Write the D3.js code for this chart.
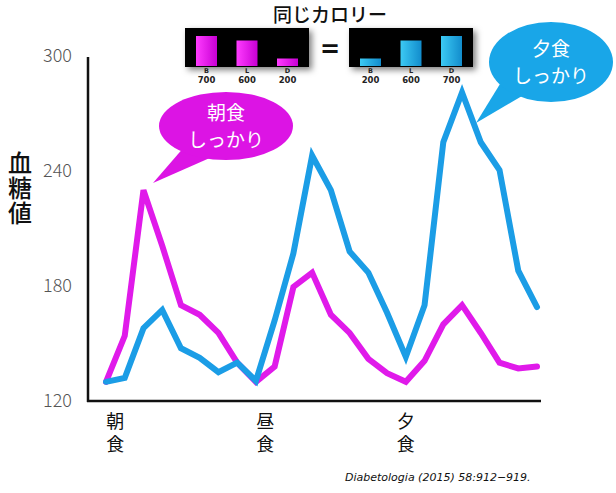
<!DOCTYPE html>
<html><head><meta charset="utf-8">
<script src="https://cdn.jsdelivr.net/npm/d3@7"></script>
<style>
html,body{margin:0;padding:0;background:#fff;}
svg{display:block;}
</style>
</head><body>
<svg id="chart" width="616" height="493"></svg>
<script>
// ---- data ----
const steps = d3.range(24);
const breakfastHeavy = [130,154,230,201,170,165,155.5,140,130,138,179.5,187,165,155.5,142,134.5,130,141,160,170,155.5,140,137,138];
const dinnerHeavy    = [130,132,158,167.5,147.5,142.5,135,140,130.5,162,197,248,230,198,187,166,143,170,255,281,255,240.5,188,169];
const yTicks = [120,180,240,300];
const mealLabels = ["朝食","昼食","夕食"];
const mealSteps = [0.5,8.5,16];
const insetCats = ["B","L","D"];
const insetBreakfast = [700,600,200];
const insetDinner = [200,600,700];

const svg = d3.select("#chart");
const JP = "'Noto Sans CJK JP','Noto Sans',sans-serif";
const MAG = "#e01aea", BLUE = "#1b9de6";

const x = d3.scaleLinear().domain([0,23]).range([106,537]);
const y = d3.scaleLinear().domain([120,300]).range([401,56]);

const defs = svg.append("defs");
const sh = defs.append("filter").attr("id","sh").attr("x","-20%").attr("y","-30%").attr("width","150%").attr("height","170%");
sh.append("feDropShadow").attr("dx",3).attr("dy",3).attr("stdDeviation",3).attr("flood-color","#000").attr("flood-opacity",0.5);
function grad(id,c1,c2){
  const g = defs.append("linearGradient").attr("id",id).attr("x1","0").attr("x2","1").attr("y1","0").attr("y2","0");
  g.append("stop").attr("offset","0").attr("stop-color",c1);
  g.append("stop").attr("offset","1").attr("stop-color",c2);
}
grad("gm","#ff3cff","#c800d4");
grad("gb","#3ccaf4","#128ccc");

// axes
const yAxis = d3.axisLeft(y).tickValues(yTicks).tickSize(0).tickPadding(16);
const gy = svg.append("g").attr("transform","translate(88,0)").call(yAxis);
gy.select(".domain").attr("stroke","#111").attr("stroke-width",2.5).attr("d","M0,57V402");
gy.selectAll("text").attr("font-family",JP).attr("font-size",18).attr("font-weight",300).attr("fill","#555");

const gx = svg.append("g").attr("transform","translate(0,401)").call(d3.axisBottom(x).tickValues([]).tickSizeOuter(0));
gx.select(".domain").attr("stroke","#111").attr("stroke-width",2.5).attr("d","M87,0H541");

// meal labels (vertical)
mealLabels.forEach((lab,i)=>{
  svg.append("text").attr("x",x(mealSteps[i])).attr("y",412)
    .attr("writing-mode","tb").attr("font-family",JP).attr("font-size",18)
    .attr("letter-spacing",5).attr("fill","#111").text(lab);
});

// y label (vertical)
svg.append("text").attr("x",20).attr("y",151).attr("writing-mode","tb")
  .attr("font-family",JP).attr("font-size",24).attr("font-weight",500).attr("letter-spacing",1)
  .attr("fill","#111").text("血糖値");

// lines
const line = d3.line().x((d,i)=>x(steps[i])).y(d=>y(d)).curve(d3.curveLinear);
svg.append("path").datum(breakfastHeavy).attr("d",line).attr("fill","none").attr("stroke",MAG).attr("stroke-width",6).attr("stroke-linejoin","miter").attr("stroke-linecap","round");
svg.append("path").datum(dinnerHeavy).attr("d",line).attr("fill","none").attr("stroke",BLUE).attr("stroke-width",6).attr("stroke-linejoin","miter").attr("stroke-linecap","round");

// callouts
function callout(cx,cy,rx,ry,tip,base1,base2,color,lines){
  const g = svg.append("g");
  g.append("path").attr("d",`M${base1[0]},${base1[1]}L${tip[0]},${tip[1]}L${base2[0]},${base2[1]}Z`).attr("fill",color);
  g.append("ellipse").attr("cx",cx).attr("cy",cy).attr("rx",rx).attr("ry",ry).attr("fill",color);
  lines.forEach((t,j)=>{
    g.append("text").attr("x",cx).attr("y",cy-6+j*27).attr("text-anchor","middle")
      .attr("font-family",JP).attr("font-size",19).attr("fill","#fff").text(t);
  });
}
callout(226,126,67,34,[153,183],[185,146],[212,157],"#dc14e4",["朝食","しっかり"]);
callout(551,62,62,40,[476,123],[500,84],[522,96],"#19a6e8",["夕食","しっかり"]);

// title
svg.append("text").attr("x",330).attr("y",22).attr("text-anchor","middle").attr("font-family",JP)
  .attr("font-size",19).attr("font-weight",500).attr("fill","#111").text("同じカロリー");

// insets
function inset(x0,vals,fill){
  const w = 124, h = 39, top = 28;
  const g = svg.append("g");
  g.append("rect").attr("x",x0).attr("y",top).attr("width",w).attr("height",h).attr("fill","#000").attr("filter","url(#sh)");
  const bx = d3.scalePoint().domain(insetCats).range([x0+21.5,x0+102.5]);
  const bh = d3.scaleLinear().domain([100,700]).range([3,30]);
  const bw = 21;
  insetCats.forEach((c,i)=>{
    const cx = bx(c);
    g.append("rect").attr("x",cx-bw/2).attr("y",top+h-1-bh(vals[i])).attr("width",bw).attr("height",bh(vals[i])).attr("fill",fill);
    g.append("text").attr("x",cx).attr("y",top+h+6).attr("text-anchor","middle").attr("font-family","'DejaVu Sans',sans-serif")
      .attr("font-size",6.5).attr("font-weight","bold").attr("fill","#222").text(c);
    g.append("text").attr("x",cx).attr("y",top+h+16).attr("text-anchor","middle").attr("font-family","'DejaVu Sans',sans-serif")
      .attr("font-size",8.5).attr("font-weight","bold").attr("fill","#222").text(vals[i]);
  });
}
inset(185,insetBreakfast,"url(#gm)");
inset(349,insetDinner,"url(#gb)");
svg.append("text").attr("x",330).attr("y",57).attr("text-anchor","middle").attr("font-family","'DejaVu Sans',sans-serif")
  .attr("font-size",24).attr("font-weight","bold").attr("fill","#111").text("=");

// citation
svg.append("text").attr("x",345).attr("y",481).attr("font-family","'DejaVu Sans',Verdana,sans-serif")
  .attr("font-size",11).attr("font-style","italic").attr("fill","#111").text("Diabetologia (2015) 58:912−919.");
</script>
</body></html>
